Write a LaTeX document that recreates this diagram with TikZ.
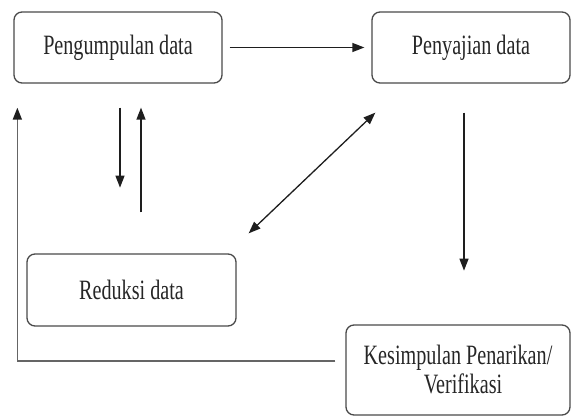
\documentclass[tikz,border=0pt]{standalone}
\usepackage{fontspec}
\usepackage{graphicx}
\usetikzlibrary{arrows.meta}
\setmainfont{Liberation Serif}
\newcommand{\sempit}[1]{\scalebox{0.72}[1]{#1}}
\definecolor{boxline}{HTML}{4A4A4A}
\definecolor{arrline}{HTML}{1E1E1E}
\tikzset{
  kotak/.style={draw=boxline, line width=1.3pt, rounded corners=8pt, align=center,
    inner sep=0pt, text=black!85, font=\fontsize{28}{30}\selectfont},
  ujung/.tip={Triangle[length=12pt,width=9pt,color=arrline]},
  panah/.style={draw=arrline, line width=1.3pt, -ujung}
}
\begin{document}
\begin{tikzpicture}[x=1pt,y=1pt]
    \useasboundingbox (0,0) rectangle (571,417);

    \node[kotak, minimum width=208pt, minimum height=71pt] (Kumpul) at (118,369.5) {\sempit{Pengumpulan data}};
    \node[kotak, minimum width=198pt, minimum height=71pt] (Saji) at (471,369.5) {\sempit{Penyajian data}};
    \node[kotak, minimum width=209pt, minimum height=72pt] (Reduksi) at (131.5,127) {\sempit{Reduksi data}};
    \node[kotak, minimum width=224pt, minimum height=90pt] (Simpul) at (458,47)
        {\sempit{Kesimpulan Penarikan/}\\[-1pt]\hspace*{10pt}\sempit{Verifikasi}};

    \draw[panah, shorten <=7pt, shorten >=7pt] (Kumpul.east) -- (Saji.west);
    \draw[panah] ([xshift=2pt,yshift=-24pt]Kumpul.south) -- ++(0,-80);
    \draw[panah] ([xshift=9.5pt,yshift=41pt]Reduksi.north) -- ([xshift=23pt,yshift=-24pt]Kumpul.south);
    \draw[panah, ujung-ujung]
        ([xshift=12pt,yshift=20pt]Reduksi.north east) -- ([xshift=4pt,yshift=-29pt]Saji.south west);
    \draw[panah] ([xshift=-7pt,yshift=-29pt]Saji.south) -- ++(0,-158);
    \draw[panah, draw=boxline!85, line width=1.6pt] ([xshift=-10pt,yshift=9pt]Simpul.west) -| ([xshift=4pt,yshift=-24pt]Kumpul.south west);
\end{tikzpicture}
\end{document}
